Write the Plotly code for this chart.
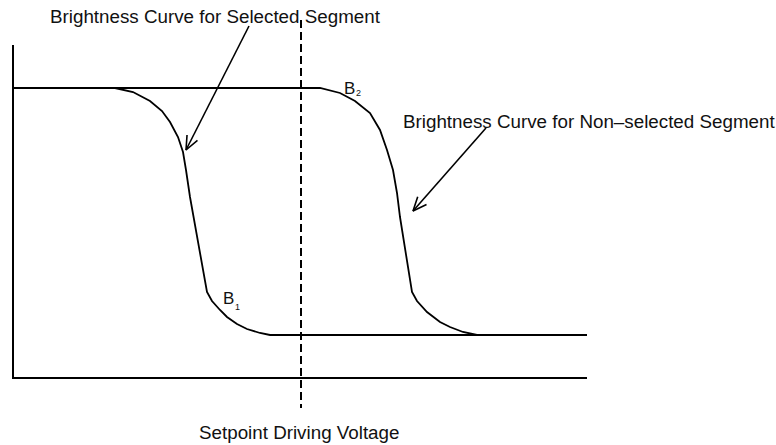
import numpy as np
import plotly.graph_objects as go

# ---- data (diagram units: x = driving voltage, y = brightness, screen-like scale) ----
sel_x = [13, 115, 133, 150, 162, 170, 178, 183, 186, 190, 207, 212, 220, 227, 237, 247, 260, 270, 587]
sel_y = [88, 88, 92, 101, 111, 122, 137, 152, 170, 197, 292, 301, 310, 317, 324, 329, 333, 335, 335]

non_x = [13, 320, 340, 355, 370, 380, 387, 393, 397, 400, 412, 417, 427, 440, 450, 463, 477, 587]
non_y = [88, 88, 93, 101, 113, 130, 150, 170, 193, 217, 292, 301, 312, 322, 327, 332, 335, 335]

axis_x = [13, 13, 587]
axis_y = [45, 378, 378]

setpoint_x = [301, 301]
setpoint_y = [20, 408]

# arrows: (tail, tip)
arrows = [((249, 26), (186, 150)), ((486, 128), (413, 211))]

labels = {
    "sel": "Brightness Curve for Selected Segment",
    "non": "Brightness Curve for Non\u2013selected Segment",
    "xlab": "Setpoint Driving Voltage",
}

fig = go.Figure()
line = dict(color="black", width=2)
fig.add_trace(go.Scatter(x=axis_x, y=axis_y, mode="lines", line=line, hoverinfo="skip"))
fig.add_trace(go.Scatter(x=setpoint_x, y=setpoint_y, mode="lines",
                         line=dict(color="black", width=2, dash="8px,4px"), hoverinfo="skip"))
fig.add_trace(go.Scatter(x=sel_x, y=sel_y, mode="lines", line=dict(color="black", width=1.8), hoverinfo="skip"))
fig.add_trace(go.Scatter(x=non_x, y=non_y, mode="lines", line=dict(color="black", width=1.8), hoverinfo="skip"))

for (tail, tip) in arrows:
    fig.add_trace(go.Scatter(x=[tail[0], tip[0]], y=[tail[1], tip[1]], mode="lines",
                             line=dict(color="black", width=1.6), hoverinfo="skip"))
    d = np.array(tail, float) - np.array(tip, float)
    d /= np.linalg.norm(d)
    wx, wy = [], []
    for ang in (np.radians(23), np.radians(-23)):
        r = np.array([d[0] * np.cos(ang) - d[1] * np.sin(ang), d[0] * np.sin(ang) + d[1] * np.cos(ang)])
        p = np.array(tip) + 15 * r
        wx += [p[0], tip[0]]
        wy += [p[1], tip[1]]
    fig.add_trace(go.Scatter(x=[wx[0], wx[1], wx[2]], y=[wy[0], wy[1], wy[2]], mode="lines",
                             line=dict(color="black", width=1.6), hoverinfo="skip"))

font = dict(family="Liberation Sans, Arial, sans-serif", size=18.8, color="#111")
fig.add_annotation(x=215, y=16, text=labels["sel"], showarrow=False, font=font, xanchor="center", yanchor="middle")
fig.add_annotation(x=401, y=121, text=labels["non"], showarrow=False, font=font, xanchor="left", yanchor="middle")
fig.add_annotation(x=299, y=432, text=labels["xlab"], showarrow=False, font=font, xanchor="center", yanchor="middle")

bfont = dict(family="Liberation Sans, Arial, sans-serif", size=17, color="#111")
sfont = dict(family="Liberation Sans, Arial, sans-serif", size=9, color="#111")
fig.add_annotation(x=349, y=88, text="B", showarrow=False, font=bfont, xanchor="center", yanchor="middle")
fig.add_annotation(x=358, y=93, text="2", showarrow=False, font=sfont, xanchor="center", yanchor="middle")
fig.add_annotation(x=228, y=298, text="B", showarrow=False, font=bfont, xanchor="center", yanchor="middle")
fig.add_annotation(x=237, y=307, text="1", showarrow=False, font=sfont, xanchor="center", yanchor="middle")

fig.update_layout(
    width=776, height=445, margin=dict(l=0, r=0, t=0, b=0),
    paper_bgcolor="white", plot_bgcolor="white", showlegend=False,
    xaxis=dict(range=[0, 776], visible=False, fixedrange=True),
    yaxis=dict(range=[445, 0], visible=False, fixedrange=True),
)
fig.write_html("out.html", config={"displayModeBar": False},
               post_script="document.body.style.margin='0';document.body.style.overflow='hidden';")
